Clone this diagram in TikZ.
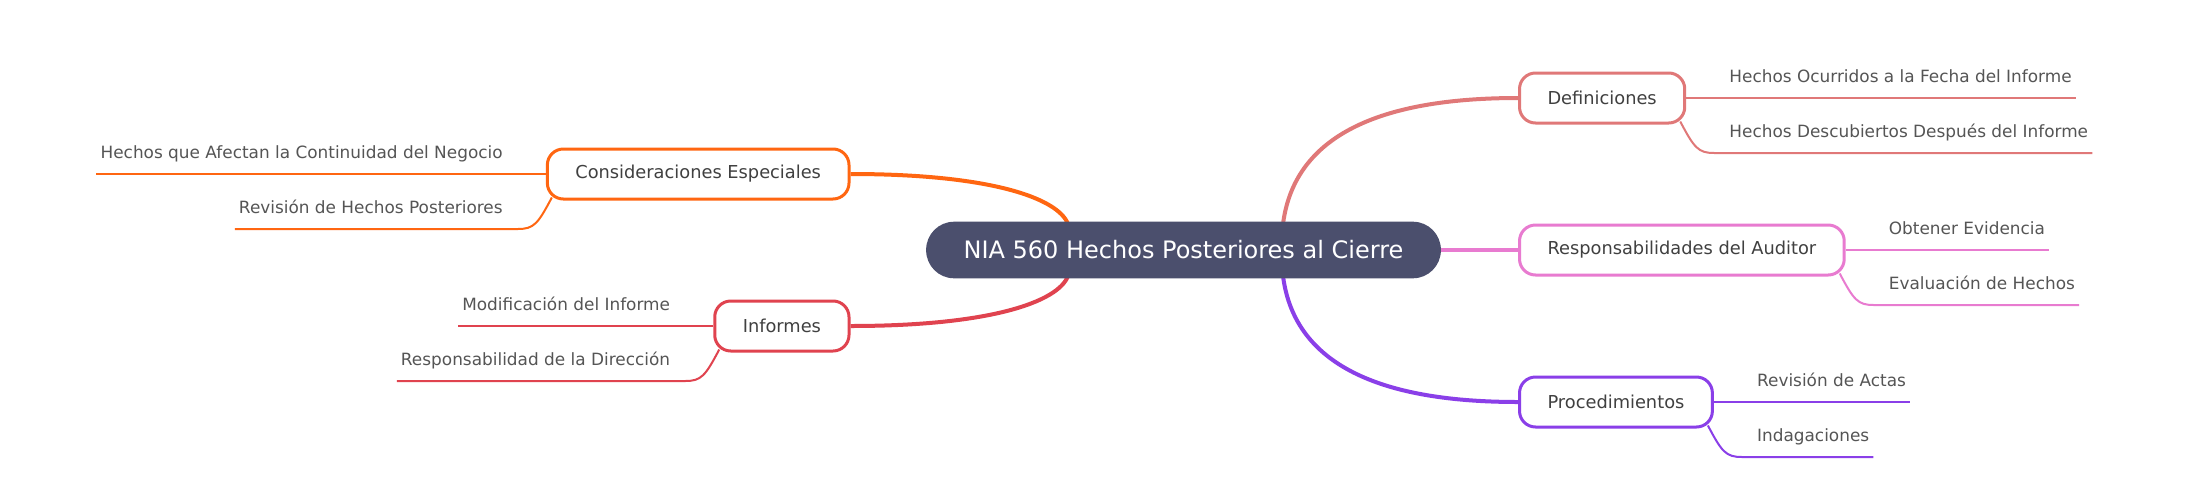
\documentclass[tikz,border=0pt]{standalone}
\usepackage{fontspec}
\setmainfont{DejaVu Sans}
\usetikzlibrary{calc,backgrounds}
\definecolor{rootc}{HTML}{4B4F6D}
\definecolor{csal}{HTML}{E07878}
\definecolor{cpink}{HTML}{E87BD0}
\definecolor{cpurp}{HTML}{8A3FE8}
\definecolor{corange}{HTML}{FF6611}
\definecolor{cred}{HTML}{E0434F}
\definecolor{cattext}{HTML}{404040}
\definecolor{leaftext}{HTML}{555555}
\tikzset{
  rootbox/.style={fill=rootc, text=white, rounded corners=28pt, minimum height=56.6pt,
    inner xsep=37.5pt, inner ysep=0pt, font=\fontsize{24}{28}\selectfont},
  catbox/.style={draw, line width=3pt, rounded corners=16pt, fill=white, minimum height=50pt,
    inner xsep=28pt, inner ysep=0pt, text=cattext, font=\fontsize{17.8}{20}\selectfont},
  leaftxt/.style={inner sep=0pt, text=leaftext, font=\fontsize{16.9}{19}\selectfont},
  conn/.style={line width=4pt},
  leafline/.style={line width=2pt},
}
\begin{document}
\begin{tikzpicture}[x=1pt,y=-1pt]
\useasboundingbox (0,0) rectangle (2186,501);

% root
\node[rootbox] (root) at (1183.5,250) {NIA 560 Hechos Posteriores al Cierre};
\coordinate (rNE) at (1283,224);
\coordinate (rSE) at (1283,276);
\coordinate (rNW) at (1068,224);
\coordinate (rSW) at (1068,276);

% categories right
\node[catbox, draw=csal, anchor=west] (def) at (1518,98) {Definiciones};
\node[catbox, draw=cpink, anchor=west] (resp) at (1518,250) {Responsabilidades del Auditor};
\node[catbox, draw=cpurp, anchor=west] (proc) at (1518,402) {Procedimientos};
% categories left
\node[catbox, draw=corange, anchor=east] (cons) at (850.5,174) {Consideraciones Especiales};
\node[catbox, draw=cred, anchor=east] (inf) at (850.5,326) {Informes};

% leaves right
\node[leaftxt, anchor=base west] (def1) at ($(def.east)+(43,-15.5)$) {Hechos Ocurridos a la Fecha del Informe};
\node[leaftxt, anchor=base west] (def2) at ($(def.east)+(43,39.5)$) {Hechos Descubiertos Después del Informe};
\node[leaftxt, anchor=base west] (resp1) at ($(resp.east)+(43,-15.5)$) {Obtener Evidencia};
\node[leaftxt, anchor=base west] (resp2) at ($(resp.east)+(43,39.5)$) {Evaluación de Hechos};
\node[leaftxt, anchor=base west] (proc1) at ($(proc.east)+(43,-15.5)$) {Revisión de Actas};
\node[leaftxt, anchor=base west] (proc2) at ($(proc.east)+(43,39.5)$) {Indagaciones};
% leaves left
\node[leaftxt, anchor=base east] (cons1) at ($(cons.west)+(-43,-15.5)$) {Hechos que Afectan la Continuidad del Negocio};
\node[leaftxt, anchor=base east] (cons2) at ($(cons.west)+(-43,39.5)$) {Revisión de Hechos Posteriores};
\node[leaftxt, anchor=base east] (inf1) at ($(inf.west)+(-43,-15.5)$) {Modificación del Informe};
\node[leaftxt, anchor=base east] (inf2) at ($(inf.west)+(-43,39.5)$) {Responsabilidad de la Dirección};

\begin{pgfonlayer}{background}
\fill[white] (0,0) rectangle (2186,501);
% main connectors
\draw[conn, csal] (rNE) .. controls (1295,130) and (1390,98) .. (def.west);
\draw[conn, cpink] (root.east) -- (resp.west);
\draw[conn, cpurp] (rSE) .. controls (1295,370) and (1390,402) .. (proc.west);
\draw[conn, corange] (rNW) .. controls (1058,198) and (990,174) .. (cons.east);
\draw[conn, cred] (rSW) .. controls (1058,302) and (990,326) .. (inf.east);
\end{pgfonlayer}

% leaf lines right
\foreach \b/\c in {def/csal, resp/cpink, proc/cpurp}{
  \draw[leafline, \c] (\b.east) -- ($(\b1.base east)+(4,15.5)$);
  \draw[leafline, \c] ($(\b.south east)+(-6,-3)$) .. controls ($(\b.east)+(8,50)$) and ($(\b.east)+(12,55)$) .. ($(\b.east)+(28,55)$) -- ($(\b2.base east)+(4,15.5)$);
}
% leaf lines left
\foreach \b/\c in {cons/corange, inf/cred}{
  \draw[leafline, \c] (\b.west) -- ($(\b1.base west)+(-4,15.5)$);
  \draw[leafline, \c] ($(\b.south west)+(6,-3)$) .. controls ($(\b.west)+(-8,50)$) and ($(\b.west)+(-12,55)$) .. ($(\b.west)+(-28,55)$) -- ($(\b2.base west)+(-4,15.5)$);
}
\end{tikzpicture}
\end{document}
